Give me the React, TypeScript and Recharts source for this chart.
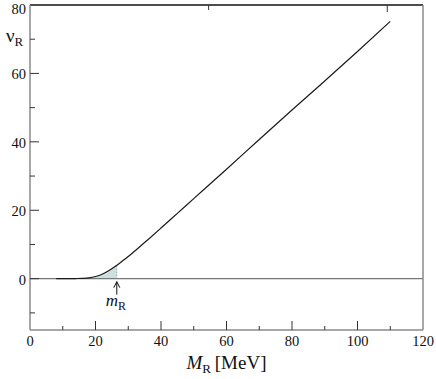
import {
  Area,
  ComposedChart,
  Line,
  ReferenceDot,
  ReferenceLine,
  XAxis,
  YAxis,
} from "recharts";

const massValues = [8, 10, 12, 14, 16, 18, 20, 22, 24, 26.5, 28, 30, 33, 36, 40, 45, 50, 60, 70, 80, 90, 100, 110];
const nuValues = [0, 0, 0.01, 0.04, 0.1, 0.25, 0.65, 1.3, 2.3, 3.9, 5.0, 6.5, 8.9, 11.4, 14.8, 19.1, 23.4, 32.0, 40.7, 49.3, 57.8, 66.4, 75.2];
const mR = 26.5;
const shadeStart = 16;

const xTicks = [0, 10, 20, 30, 40, 50, 60, 70, 80, 90, 100, 110, 120];
const yTicks = [-10, 0, 10, 20, 30, 40, 50, 60, 70, 80];
const xLabels = [0, 20, 40, 60, 80, 100, 120];
const yLabels = [0, 20, 40, 60, 80];

const data = massValues.map((m, i) => ({
  m,
  nu: nuValues[i],
  shade: m >= shadeStart && m <= mR ? nuValues[i] : null,
}));
const nuAtMR = nuValues[massValues.indexOf(mR)];

const FONT = "Liberation Serif, Times New Roman, serif";
const FRAME = "#8a8a8a";
const TICK = "#333";

function BottomTick({ x, y, payload }: any) {
  const v = payload.value;
  const major = xLabels.includes(v);
  return (
    <g>
      {v > 0 && v < 120 && (
        <line x1={x} x2={x} y1={y} y2={y - (major ? 9 : 4)} stroke={TICK} />
      )}
      {major && (
        <text x={x} y={y + 15.5} textAnchor="middle" fontSize={14.5} fontFamily={FONT} fill="#111">
          {v}
        </text>
      )}
    </g>
  );
}

function TopTick({ x, y, payload }: any) {
  const v = payload.value;
  if (v <= 0 || v >= 120) return <g />;
  const major = xLabels.includes(v);
  return <line x1={x} x2={x} y1={y} y2={y + (major ? 7 : 5)} stroke={TICK} />;
}

function LeftTick({ x, y, payload }: any) {
  const v = payload.value;
  const major = yLabels.includes(v);
  // keep the top label inside the picture
  const baseline = Math.max(y + 6, 13.5);
  return (
    <g>
      {v < 80 && <line x1={x} x2={x + (major ? 9 : 5)} y1={y} y2={y} stroke={TICK} />}
      {major && (
        <text x={x - 4} y={baseline} textAnchor="end" fontSize={14.5} fontFamily={FONT} fill="#111">
          {v}
        </text>
      )}
    </g>
  );
}

function RightTick({ x, y, payload }: any) {
  const v = payload.value;
  if (v >= 80) return <g />;
  const major = yLabels.includes(v);
  return <line x1={x} x2={x - (major ? 6 : 4)} y1={y} y2={y} stroke={TICK} />;
}

function MassMarker({ cx, cy }: any) {
  return (
    <g>
      <line x1={cx} x2={cx} y1={cy + 3} y2={cy + 16} stroke="#111" strokeWidth={1} />
      <polyline
        points={`${cx - 3},${cy + 9} ${cx},${cy + 3} ${cx + 3},${cy + 9}`}
        fill="none"
        stroke="#111"
        strokeWidth={1}
      />
      <text x={cx - 1} y={cy + 27} textAnchor="middle" fontSize={17} fontFamily={FONT} fill="#111">
        <tspan fontStyle="italic">m</tspan>
        <tspan fontSize={12} dy={4}>R</tspan>
      </text>
    </g>
  );
}

export default function App() {
  return (
    <div style={{ position: "absolute", left: 0, top: 0, width: 436, height: 379, background: "#fff" }}>
      <ComposedChart
        width={436}
        height={379}
        data={data}
        margin={{ top: 4, right: 12, bottom: 0, left: 0 }}
      >
        <XAxis
          dataKey="m"
          type="number"
          domain={[0, 120]}
          ticks={xTicks}
          interval={0}
          height={49}
          tickSize={0}
          tickMargin={0}
          tickLine={false}
          tick={<BottomTick />}
          axisLine={{ stroke: FRAME, strokeWidth: 1.5 }}
          label={{
            content: ({ viewBox }: any) => (
              <text
                x={viewBox.x + viewBox.width / 2}
                y={viewBox.y + 39}
                textAnchor="middle"
                fontSize={19}
                fontFamily={FONT}
                fill="#111"
              >
                <tspan fontStyle="italic">M</tspan>
                <tspan fontSize={13} dy={4}>R</tspan>
                <tspan dy={-4}>{"\u2009[MeV]"}</tspan>
              </text>
            ),
          }}
        />
        <XAxis
          xAxisId="top"
          orientation="top"
          type="number"
          domain={[0, 120]}
          ticks={xTicks}
          interval={0}
          height={1}
          tickSize={0}
          tickMargin={0}
          tickLine={false}
          tick={<TopTick />}
          axisLine={{ stroke: "#111", strokeWidth: 1.5 }}
        />
        <YAxis
          type="number"
          domain={[-15, 80]}
          ticks={yTicks}
          interval={0}
          width={30}
          tickSize={0}
          tickMargin={0}
          tickLine={false}
          tick={<LeftTick />}
          axisLine={{ stroke: FRAME, strokeWidth: 1.5 }}
          label={{
            content: () => (
              <text x={6} y={42} fontSize={19} fontFamily={FONT} fill="#111">
                <tspan>ν</tspan>
                <tspan fontSize={13} dy={4}>R</tspan>
              </text>
            ),
          }}
        />
        <YAxis
          yAxisId="right"
          orientation="right"
          type="number"
          domain={[-15, 80]}
          ticks={yTicks}
          interval={0}
          width={1}
          tickSize={0}
          tickMargin={0}
          tickLine={false}
          tick={<RightTick />}
          axisLine={{ stroke: FRAME, strokeWidth: 1.5 }}
        />
        <Area
          dataKey="shade"
          type="monotone"
          stroke="none"
          fill="#cddfe1"
          fillOpacity={1}
          baseValue={0}
          isAnimationActive={false}
        />
        <ReferenceLine y={0} stroke="#777" strokeWidth={1.2} />
        <ReferenceLine
          segment={[
            { x: mR, y: 0 },
            { x: mR, y: nuAtMR },
          ]}
          stroke="#888"
          strokeDasharray="1 2"
        />
        <Line
          dataKey="nu"
          type="monotone"
          stroke="#1a1a1a"
          strokeWidth={1.2}
          dot={false}
          isAnimationActive={false}
        />
        <ReferenceDot x={mR} y={0} r={0} shape={<MassMarker />} />
      </ComposedChart>
    </div>
  );
}
